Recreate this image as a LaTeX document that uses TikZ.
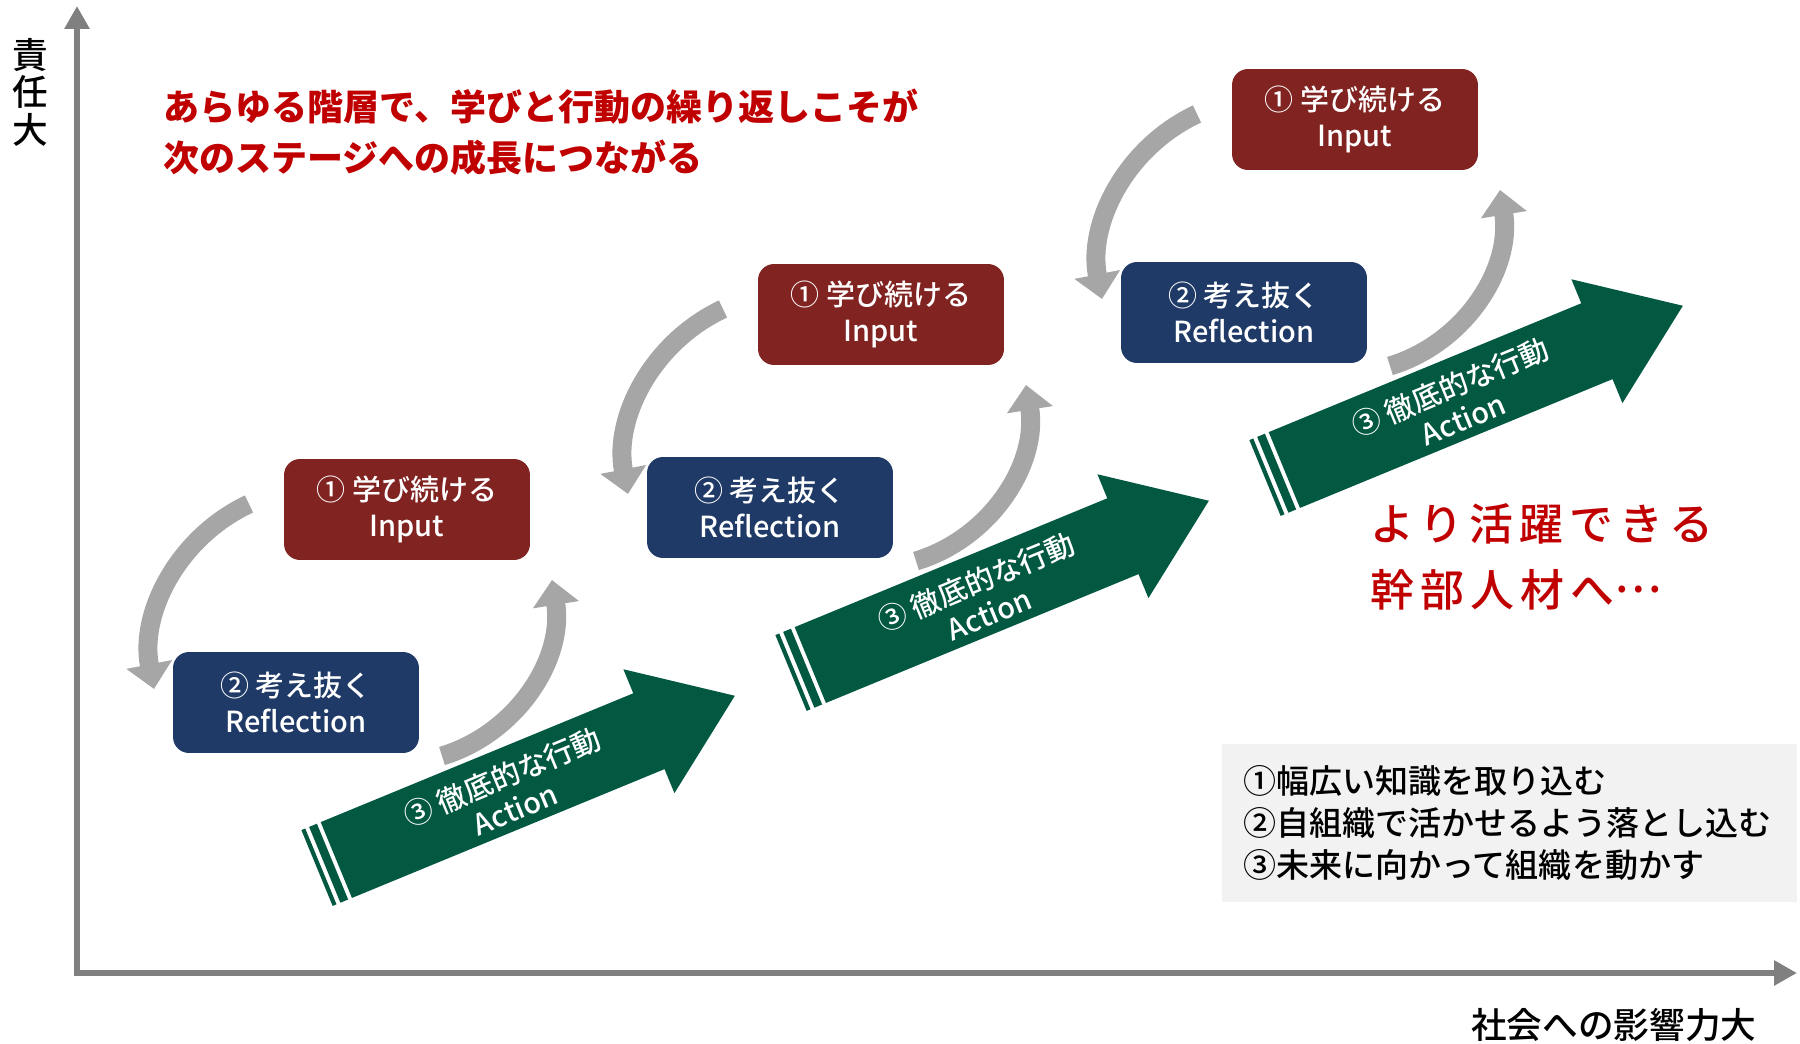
\documentclass[tikz,border=0pt]{standalone}
\usepackage{fontspec}
\setmainfont{Noto Sans CJK JP}
\newfontfamily\jpmedium{Noto Sans CJK JP Medium}
\usetikzlibrary{arrows.meta}
\definecolor{inputred}{RGB}{128,35,33}
\definecolor{reflectblue}{RGB}{31,58,102}
\definecolor{actiongreen}{RGB}{2,88,65}
\definecolor{cyclegray}{RGB}{166,166,166}
\definecolor{axisgray}{RGB}{128,128,128}
\definecolor{headred}{RGB}{192,0,0}
\definecolor{notebg}{RGB}{242,242,242}
\tikzstyle{every node}=[inner sep=0pt]
\tikzstyle{axisline}=[draw=axisgray, line width=0.12cm, line cap=rect, -{Triangle[width=0.48cm,length=0.46cm]}]
\tikzstyle{stagebox}=[rounded corners=0.32cm, minimum width=4.92cm, minimum height=2.02cm, align=center, text=white, font=\jpmedium\fontsize{16.5}{20.5}\selectfont]
\tikzstyle{inputbox}=[stagebox, fill=inputred]
\tikzstyle{reflectbox}=[stagebox, fill=reflectblue]
\tikzstyle{cyclearrow}=[draw=cyclegray, line width=0.38cm, -{Triangle[width=0.9cm,length=0.5cm]}]
\tikzstyle{actiontext}=[text=white, align=center, rotate=22.4, font=\jpmedium\fontsize{16.5}{19.5}\selectfont]

\begin{document}
\begin{tikzpicture}[x=0.02cm, y=-0.02cm]
    \useasboundingbox (0,0) rectangle (1800,1044);

    % axes
    \coordinate (origin) at (77,973);
    \coordinate (ytop) at (77,6);
    \coordinate (xend) at (1797,973);
    \draw[axisline] (origin) -- (ytop);
    \draw[axisline] (origin) -- (xend);
    \node[align=center, font=\jpmedium\fontsize{20.3}{21.3}\selectfont] (ylab) at (30,92) {責\\任\\大};
    \node[anchor=east, font=\jpmedium\fontsize{20.3}{24}\selectfont] (xlab) at (1757,1025) {社会への影響力大};

    % headline
    \node[anchor=west, align=left, text=headred, font=\bfseries\fontsize{20.5}{29}\selectfont] (head) at (163,132.5)
        {あらゆる階層で、学びと行動の繰り返しこそが\\次のステージへの成長につながる};

    % stage 1
    \node[inputbox] (in1) at (407,509.5) {① 学び続ける\\Input};
    \node[reflectbox] (re1) at (296,702.5) {② 考え抜く\\Reflection};
    \coordinate (c1a) at (249,504);
    \coordinate (c1b) at (154,689);
    \draw[cyclearrow] (c1a) .. controls (178.7,536.8) and (139.2,612.8) .. (c1b);
    \coordinate (c1c) at (442,756);
    \coordinate (c1d) at (552,580);
    \draw[cyclearrow] (c1c) .. controls (517.5,733.1) and (564.4,658.2) .. (c1d);
    \begin{scope}[shift={(317,868)}, rotate=22.4]
        \fill[actiongreen] (0,-41) rectangle (4.2,41);
        \fill[actiongreen] (8.4,-41) rectangle (16.8,41);
        \fill[actiongreen] (20.9,-41) -- (359,-41) -- (359,-67) -- (452,0)
            -- (359,67) -- (359,41) -- (20.9,41) -- cycle;
        \node[actiontext] (act1) at (206,3) {③ 徹底的な行動\\Action};
    \end{scope}

    % stage 2
    \begin{scope}[shift={(474,-195)}]
        \node[inputbox] (in2) at (407,509.5) {① 学び続ける\\Input};
        \node[reflectbox] (re2) at (296,702.5) {② 考え抜く\\Reflection};
        \coordinate (c2a) at (249,504);
        \coordinate (c2b) at (154,689);
        \draw[cyclearrow] (c2a) .. controls (178.7,536.8) and (139.2,612.8) .. (c2b);
        \coordinate (c2c) at (442,756);
        \coordinate (c2d) at (552,580);
        \draw[cyclearrow] (c2c) .. controls (517.5,733.1) and (564.4,658.2) .. (c2d);
        \begin{scope}[shift={(317,868)}, rotate=22.4]
            \fill[actiongreen] (0,-41) rectangle (4.2,41);
            \fill[actiongreen] (8.4,-41) rectangle (16.8,41);
            \fill[actiongreen] (20.9,-41) -- (359,-41) -- (359,-67) -- (452,0)
                -- (359,67) -- (359,41) -- (20.9,41) -- cycle;
            \node[actiontext] (act2) at (206,3) {③ 徹底的な行動\\Action};
        \end{scope}
    \end{scope}

    % stage 3
    \begin{scope}[shift={(948,-390)}]
        \node[inputbox] (in3) at (407,509.5) {① 学び続ける\\Input};
        \node[reflectbox] (re3) at (296,702.5) {② 考え抜く\\Reflection};
        \coordinate (c3a) at (249,504);
        \coordinate (c3b) at (154,689);
        \draw[cyclearrow] (c3a) .. controls (178.7,536.8) and (139.2,612.8) .. (c3b);
        \coordinate (c3c) at (442,756);
        \coordinate (c3d) at (552,580);
        \draw[cyclearrow] (c3c) .. controls (517.5,733.1) and (564.4,658.2) .. (c3d);
        \begin{scope}[shift={(317,868)}, rotate=22.4]
            \fill[actiongreen] (0,-41) rectangle (4.2,41);
            \fill[actiongreen] (8.4,-41) rectangle (16.8,41);
            \fill[actiongreen] (20.9,-41) -- (359,-41) -- (359,-67) -- (452,0)
                -- (359,67) -- (359,41) -- (20.9,41) -- cycle;
            \node[actiontext] (act3) at (206,3) {③ 徹底的な行動\\Action};
        \end{scope}
    \end{scope}

    % goal
    \node[anchor=west, align=left, text=headred, font=\jpmedium\fontsize{25}{37.6}\selectfont\addfontfeatures{LetterSpace=14}] (goal) at (1370,557)
        {より活躍できる\\幹部人材へ\raisebox{0.32em}{…}};

    % notes
    \node[anchor=west, fill=notebg, minimum height=3.16cm, text width=10.66cm, inner xsep=0.42cm, align=left,
        font=\jpmedium\fontsize{18.8}{23.9}\selectfont] (notes) at (1222,823)
        {①幅広い知識を取り込む\\②自組織で活かせるよう落とし込む\\③未来に向かって組織を動かす};
\end{tikzpicture}
\end{document}
